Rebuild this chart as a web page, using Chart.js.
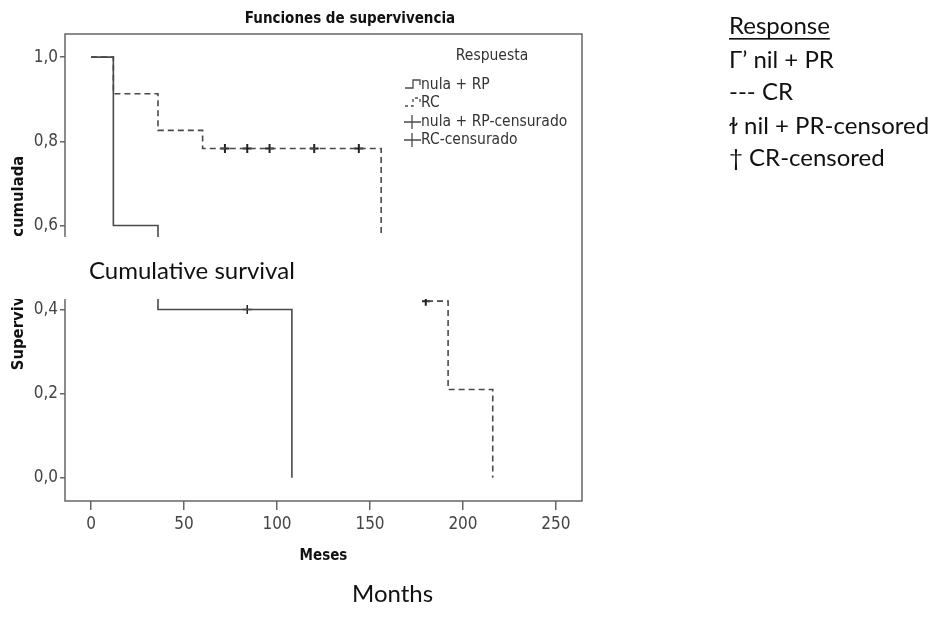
<!DOCTYPE html>
<html>
<head>
<meta charset="utf-8">
<script src="https://cdn.jsdelivr.net/npm/chart.js@4.4.1/dist/chart.umd.min.js"></script>
<style>
html,body{margin:0;padding:0;background:#fff;}
#wrap{position:relative;width:933px;height:626px;}
canvas{display:block;}
</style>
</head>
<body>
<div id="wrap"><canvas id="c" width="933" height="626"></canvas></div>
<script>
// ---- data (months, cumulative survival) ----
const nilPRTimes = [0, 12, 36, 108];
const nilPRSurv = [1.0, 0.6, 0.4, 0.0];
const nilPRCensTimes = [84];
const nilPRCensSurv = [0.4];
const crTimes = [0, 12, 36, 60, 156, 192, 216];
const crSurv = [1.0, 0.913, 0.826, 0.783, 0.42, 0.21, 0.0];
const crCensTimes = [72, 84, 96, 120, 144, 180];
const crCensSurv = [0.783, 0.783, 0.783, 0.783, 0.783, 0.42];
const xTickValues = [0, 50, 100, 150, 200, 250];
const yTickValues = [0, 0.2, 0.4, 0.6, 0.8, 1.0];
const legendLabels = ['nula + RP', 'RC', 'nula + RP-censurado', 'RC-censurado'];
const englishLegend = ['\u0393\u02BC nil + PR', '--- CR', '\u026B nil + PR-censored', '\u2020 CR-censored'];

const toPts = (xs, ys) => xs.map((x, i) => ({x: x, y: ys[i]}));
const NARROW = "'Liberation Sans Narrow','DejaVu Sans Condensed','Liberation Sans',Arial,sans-serif";
const LINE = '#4a4a4a';
const FRAME = '#666';
const SANS = "Lato, 'Open Sans', sans-serif";

const extras = {
  id: 'extras',
  afterDraw(chart) {
    const ctx = chart.ctx;
    const a = chart.chartArea;
    ctx.save();
    // frame
    ctx.strokeStyle = FRAME;
    ctx.lineWidth = 1.5;
    ctx.strokeRect(a.left, a.top, a.right - a.left, a.bottom - a.top);
    // title
    ctx.fillStyle = '#111';
    ctx.textAlign = 'center';
    ctx.textBaseline = 'middle';
    ctx.font = "bold 15px " + NARROW;
    ctx.fillText('Funciones de supervivencia', 350, 19);
    // x title
    ctx.fillText('Meses', (a.left + a.right) / 2, 556);
    // y title
    ctx.save();
    ctx.translate(19, 263);
    ctx.rotate(-Math.PI / 2);
    ctx.font = "bold 16.5px " + NARROW;
    ctx.fillText('Supervivencia acumulada', 0, 0);
    ctx.restore();
    // inner legend
    ctx.font = "15.5px " + NARROW;
    ctx.fillStyle = '#333';
    ctx.fillText('Respuesta', 492, 56);
    ctx.textAlign = 'left';
    const ly = [85, 103, 122, 140];
    const lx = 421;
    legendLabels.forEach((t, i) => ctx.fillText(t, lx, ly[i]));
    ctx.strokeStyle = LINE;
    ctx.lineWidth = 1.3;
    // solid step glyph
    ctx.beginPath();
    ctx.moveTo(405, ly[0] + 3); ctx.lineTo(413, ly[0] + 3); ctx.lineTo(413, ly[0] - 5);
    ctx.lineTo(420, ly[0] - 5); ctx.lineTo(420, ly[0]);
    ctx.stroke();
    // dashed step glyph
    ctx.setLineDash([3, 3]);
    ctx.beginPath();
    ctx.moveTo(405, ly[1] + 3); ctx.lineTo(413, ly[1] + 3); ctx.lineTo(413, ly[1] - 5);
    ctx.lineTo(420, ly[1] - 5); ctx.lineTo(420, ly[1]);
    ctx.stroke();
    ctx.setLineDash([]);
    // censor glyphs
    [ly[2], ly[3]].forEach(y => {
      ctx.beginPath();
      ctx.moveTo(404, y); ctx.lineTo(421, y);
      ctx.moveTo(412, y - 7); ctx.lineTo(412, y + 7);
      ctx.stroke();
    });
    // white overlay box with English label
    ctx.fillStyle = '#fff';
    ctx.fillRect(0, 237, 575, 62);
    ctx.fillRect(376, 299, 46, 7);
    ctx.fillStyle = '#111';
    ctx.font = "24px " + SANS;
    ctx.textAlign = 'left';
    ctx.fillText('Cumulative survival', 89, 271);
    ctx.fillText('Months', 352, 594);
    // English legend on right
    ctx.fillText('Response', 729, 26);
    const w = ctx.measureText('Response').width;
    ctx.fillRect(729, 38, w, 1.6);
    const ey = [60, 92, 126, 158];
    englishLegend.forEach((t, i) => ctx.fillText(t, 729, ey[i]));
    ctx.restore();
  }
};

new Chart(document.getElementById('c'), {
  type: 'line',
  data: {
    datasets: [
      { label: 'nula + RP', data: toPts(nilPRTimes, nilPRSurv), stepped: 'before',
        borderColor: LINE, borderWidth: 1.6, pointRadius: 0, fill: false },
      { label: 'RC', data: toPts(crTimes, crSurv), stepped: 'before',
        borderColor: LINE, borderWidth: 1.6, borderDash: [6, 4], pointRadius: 0, fill: false },
      { label: 'nula + RP-censurado', data: toPts(nilPRCensTimes, nilPRCensSurv), showLine: false,
        pointStyle: 'cross', pointRadius: 4.5, borderColor: '#222', borderWidth: 1.5 },
      { label: 'RC-censurado', data: toPts(crCensTimes, crCensSurv), showLine: false,
        pointStyle: 'cross', pointRadius: 4.5, borderColor: '#222', borderWidth: 2 }
    ]
  },
  options: {
    responsive: false,
    animation: false,
    devicePixelRatio: 1,
    layout: { padding: { left: 0, top: 34, right: 351, bottom: 85 } },
    plugins: { legend: { display: false }, tooltip: { enabled: false }, title: { display: false } },
    scales: {
      x: {
        type: 'linear', min: -14, max: 264,
        afterBuildTicks: s => { s.ticks = xTickValues.map(v => ({value: v})); },
        afterFit: s => { s.height = 40; },
        border: { display: false },
        grid: { drawOnChartArea: false, drawTicks: true, tickLength: 9, color: FRAME, lineWidth: 1.5 },
        ticks: { color: '#444', padding: 4, font: { family: NARROW, size: 17 }, maxRotation: 0 }
      },
      y: {
        type: 'linear', min: -0.055, max: 1.055,
        afterBuildTicks: s => { s.ticks = yTickValues.map(v => ({value: v})); },
        afterFit: s => { s.width = 65; },
        border: { display: false },
        grid: { drawOnChartArea: false, drawTicks: true, tickLength: 5, color: FRAME, lineWidth: 1.5 },
        ticks: { color: '#444', padding: 2, font: { family: NARROW, size: 17 },
          callback: v => v.toFixed(1).replace('.', ',') }
      }
    }
  },
  plugins: [extras]
});
</script>
</body>
</html>
